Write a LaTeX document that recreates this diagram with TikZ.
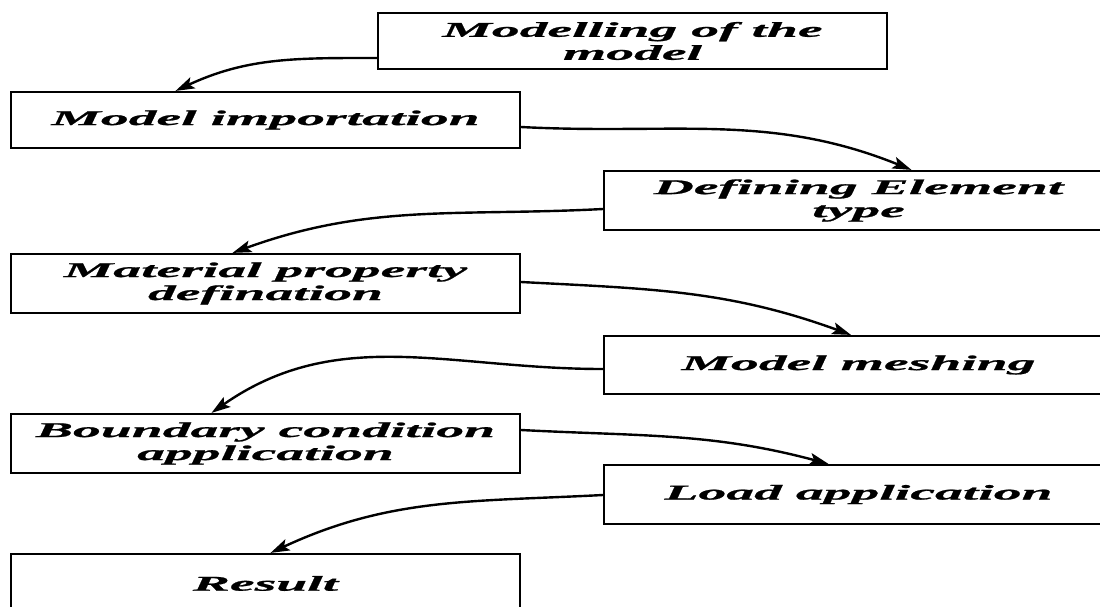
\documentclass[tikz,border=0pt]{standalone}
\usepackage{fontspec}
\newfontfamily\boxfont{Liberation Serif}[FakeStretch=2.65, FakeBold=1]
\usetikzlibrary{arrows.meta}
\tikzset{
  stepbox/.style={draw=black, line width=2.2pt, fill=white, minimum width=509pt,
    inner sep=0pt, align=center,
    font=\boxfont\bfseries\itshape\fontsize{21}{23}\selectfont},
  flow/.style={line width=2.4pt, -{Stealth[length=19pt,width=12pt,inset=4pt]}}
}
\begin{document}
\begin{tikzpicture}[x=1pt,y=-1pt]
\useasboundingbox (0,0) rectangle (1100,606);
\clip (0,0) rectangle (1100,606);
\node[stepbox, minimum height=56pt] (b1) at (632.5,41) {Modelling of the\\model};
\node[stepbox, minimum height=56pt] (b2) at (265.5,120) {Model importation};
\node[stepbox, minimum height=59pt] (b3) at (858.5,200.5) {Defining Element\\type};
\node[stepbox, minimum height=59pt] (b4) at (265.5,283.5) {Material property\\defination};
\node[stepbox, minimum height=58pt] (b5) at (858.5,365) {Model meshing};
\node[stepbox, minimum height=59pt] (b6) at (265.5,443.5) {Boundary condition\\application};
\node[stepbox, minimum height=59pt] (b7) at (858.5,494.5) {Load application};
\node[stepbox, minimum height=59pt] (b8) at (265.5,583.5) {Result};

\draw[flow] ([yshift=-17pt]b1.west) to[out=180,in=25] ([xshift=-90pt]b2.north);
\draw[flow] ([yshift=-7pt]b2.east) to[out=-3,in=158] ([xshift=53pt]b3.north);
\draw[flow] ([yshift=-8.5pt]b3.west) to[out=183,in=20] ([xshift=-33pt]b4.north);
\draw[flow] ([yshift=1.5pt]b4.east) to[out=-3,in=160] ([xshift=-7.5pt]b5.north);
\draw[flow] ([yshift=-4pt]b5.west) to[out=180,in=35] ([xshift=-54pt]b6.north);
\draw[flow] ([yshift=13.5pt]b6.east) to[out=-3,in=165] ([xshift=-30pt]b7.north);
\draw[flow] ([yshift=-0.5pt]b7.west) to[out=183,in=25] ([xshift=5pt]b8.north);
\end{tikzpicture}
\end{document}
